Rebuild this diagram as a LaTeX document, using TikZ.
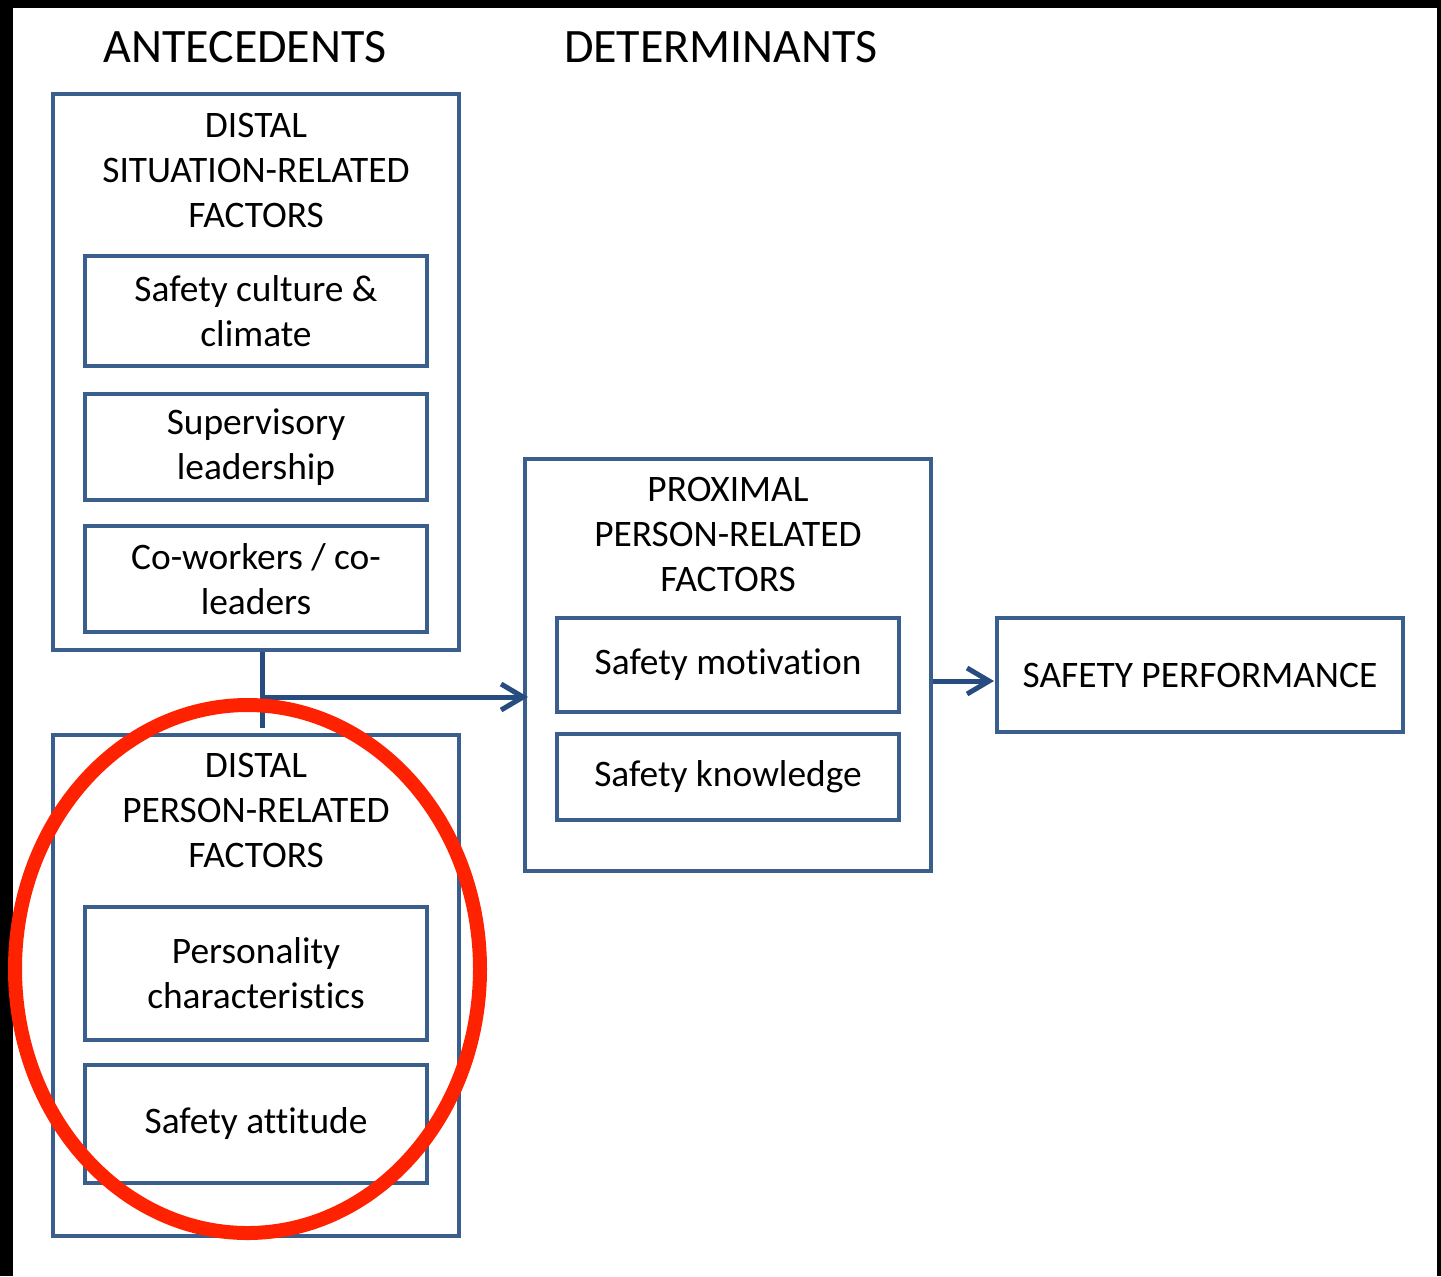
\documentclass[tikz,border=0pt]{standalone}
\usepackage{fontspec}
\setmainfont{Carlito}[Ligatures=NoCommon]
\usetikzlibrary{arrows.meta}
\definecolor{boxblue}{RGB}{58,95,140}
\definecolor{arrowblue}{RGB}{38,76,128}
\definecolor{ringred}{RGB}{255,34,0}
\begin{document}
\begin{tikzpicture}[x=0.5pt,y=-0.5pt,
  frame/.style={draw=boxblue,line width=2.4pt,inner sep=0pt},
  heading/.style={font=\fontsize{24}{28}\selectfont,align=center,inner sep=0pt},
  label/.style={font=\fontsize{18.7}{22.5}\selectfont,align=center,inner sep=0pt},
  link/.style={draw=arrowblue,line width=2.5pt},
  arrowlink/.style={link,-{Straight Barb[length=11pt,width=13pt,line width=2.5pt]}}]
  % canvas and dark edge
  \useasboundingbox (0,0) rectangle (1441,1276);
  \fill[white] (0,0) rectangle (1441,1276);
  \fill[black] (0,0) rectangle (1441,8);
  \fill[black] (0,0) rectangle (13,1276);
  \fill[black] (1437,0) rectangle (1441,1276);

  % column headings
  \node[heading] (hAnte) at (245,47) {ANTECEDENTS};
  \node[heading] (hDet) at (721,47) {DETERMINANTS};

  % distal situation-related factors
  \node[frame,minimum width=203pt,minimum height=278pt] (situ) at (256,372) {};
  \node[label] (situT) at (256,170) {DISTAL\\SITUATION-RELATED\\FACTORS};
  \node[frame,minimum width=171pt,minimum height=55pt,label] (culture) at (256,311) {Safety culture \&\\climate};
  \node[frame,minimum width=171pt,minimum height=53pt,label] (super) at (256,447) {Supervisory\\leadership};
  \node[frame,minimum width=171pt,minimum height=53pt,label] (cowork) at (256,579) {Co-workers / co-\\leaders};

  % distal person-related factors
  \node[frame,minimum width=203pt,minimum height=250.5pt] (pers) at (256,985.5) {};
  \node[label] (persT) at (256,810) {DISTAL\\PERSON-RELATED\\FACTORS};
  \node[frame,minimum width=171pt,minimum height=66.5pt,label] (person) at (256,973.5) {Personality\\characteristics};
  \node[frame,minimum width=171pt,minimum height=59pt,label] (attit) at (256,1124) {Safety attitude};

  % proximal person-related factors
  \node[frame,minimum width=203pt,minimum height=206pt] (prox) at (728,665) {};
  \node[label] (proxT) at (728,534) {PROXIMAL\\PERSON-RELATED\\FACTORS};
  \node[frame,minimum width=171pt,minimum height=47pt,label] (motiv) at (728,665) {Safety motivation};
  \node[frame,minimum width=171pt,minimum height=43pt,label] (know) at (728,777) {Safety knowledge};

  % outcome
  \node[frame,minimum width=203pt,minimum height=57pt,label] (perf) at (1200,675) {SAFETY PERFORMANCE};

  % connectors
  \coordinate (joinBot) at (262,728);
  \coordinate (joinMid) at (262,697);
  \coordinate (proxIn) at (528,697);
  \coordinate (perfIn) at (994,681);
  \draw[link] (situ.south -| joinBot) -- (joinBot);
  \draw[arrowlink] (joinMid) -- (proxIn);
  \draw[arrowlink] (prox.east |- perfIn) -- (perfIn);

  % highlight ring
  \draw[ringred,line width=7pt] (247.5,969) ellipse [x radius=232.5, y radius=264];
\end{tikzpicture}
\end{document}
